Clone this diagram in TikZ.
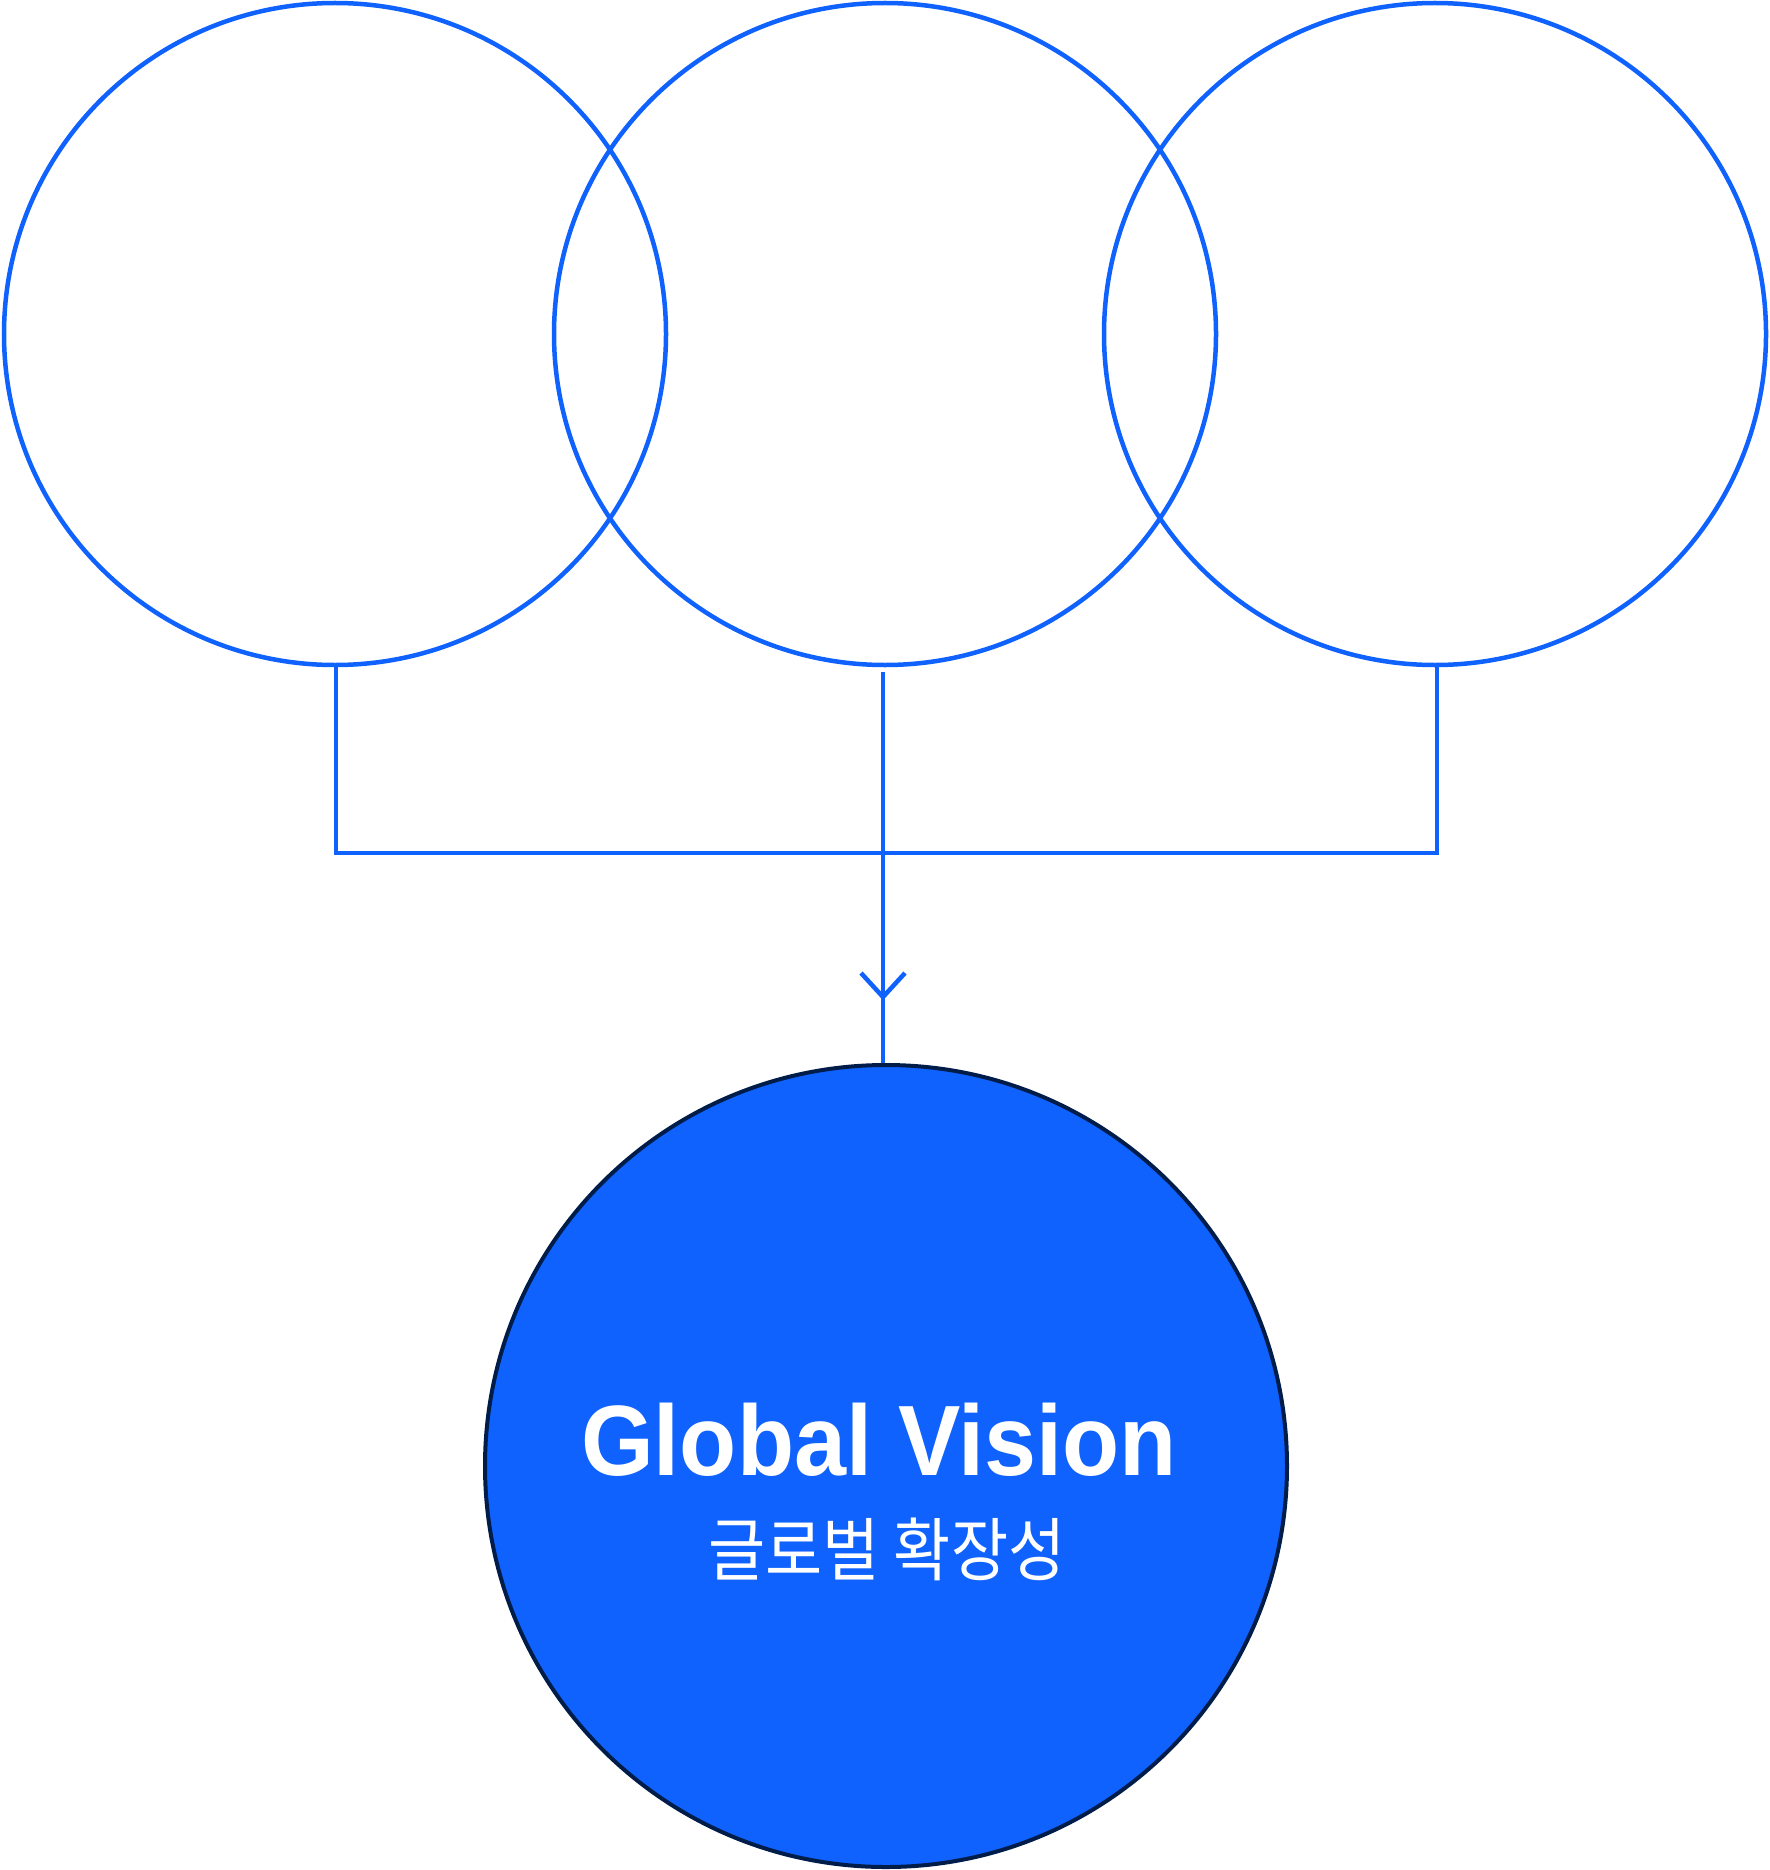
\documentclass[tikz,border=0pt]{standalone}
\usepackage{fontspec}
\setmainfont{Liberation Sans}
\newfontfamily\kofont{Noto Sans CJK KR}
\definecolor{ibmblue}{HTML}{0F62FE}
\definecolor{navy}{HTML}{001D4A}
\begin{document}
\begin{tikzpicture}[x=1pt,y=-1pt,
  ring/.style={circle,draw=ibmblue,line width=4.5pt,minimum size=662pt,inner sep=0pt},
  goalc/.style={circle,draw=navy,fill=ibmblue,line width=4pt,minimum size=802pt,inner sep=0pt},
  link/.style={draw=ibmblue,line width=4.5pt},
  lbl/.style={text=white,inner sep=0pt,anchor=base}]
\useasboundingbox (0,0) rectangle (1769,1870);
\node[ring] (c1) at (335,334) {};
\node[ring] (c2) at (885,334) {};
\node[ring] (c3) at (1435,334) {};
\node[goalc] (goal) at (886,1466) {};
\node[lbl] (t1) at (879,1475) {\scalebox{0.935}[1]{\fontsize{100}{100}\selectfont\bfseries Global Vision}};
\node[lbl] (t2) at (887,1575) {\scalebox{0.9}[1]{\kofont\fontsize{69}{69}\selectfont 글로벌 확장성}};
\coordinate (j1) at (336,853);
\coordinate (j3) at (1437,853);
\path[link] (336,664) -- (j1) -- (j3) -- (1437,664);
\coordinate (m0) at (883,672);
\coordinate (tip) at (883,997);
\path[link] (m0) -- (goal.north -| m0);
\path[link,line cap=butt] ([xshift=-22pt,yshift=24pt]tip) -- (tip) -- ([xshift=22pt,yshift=24pt]tip);
\end{tikzpicture}
\end{document}
